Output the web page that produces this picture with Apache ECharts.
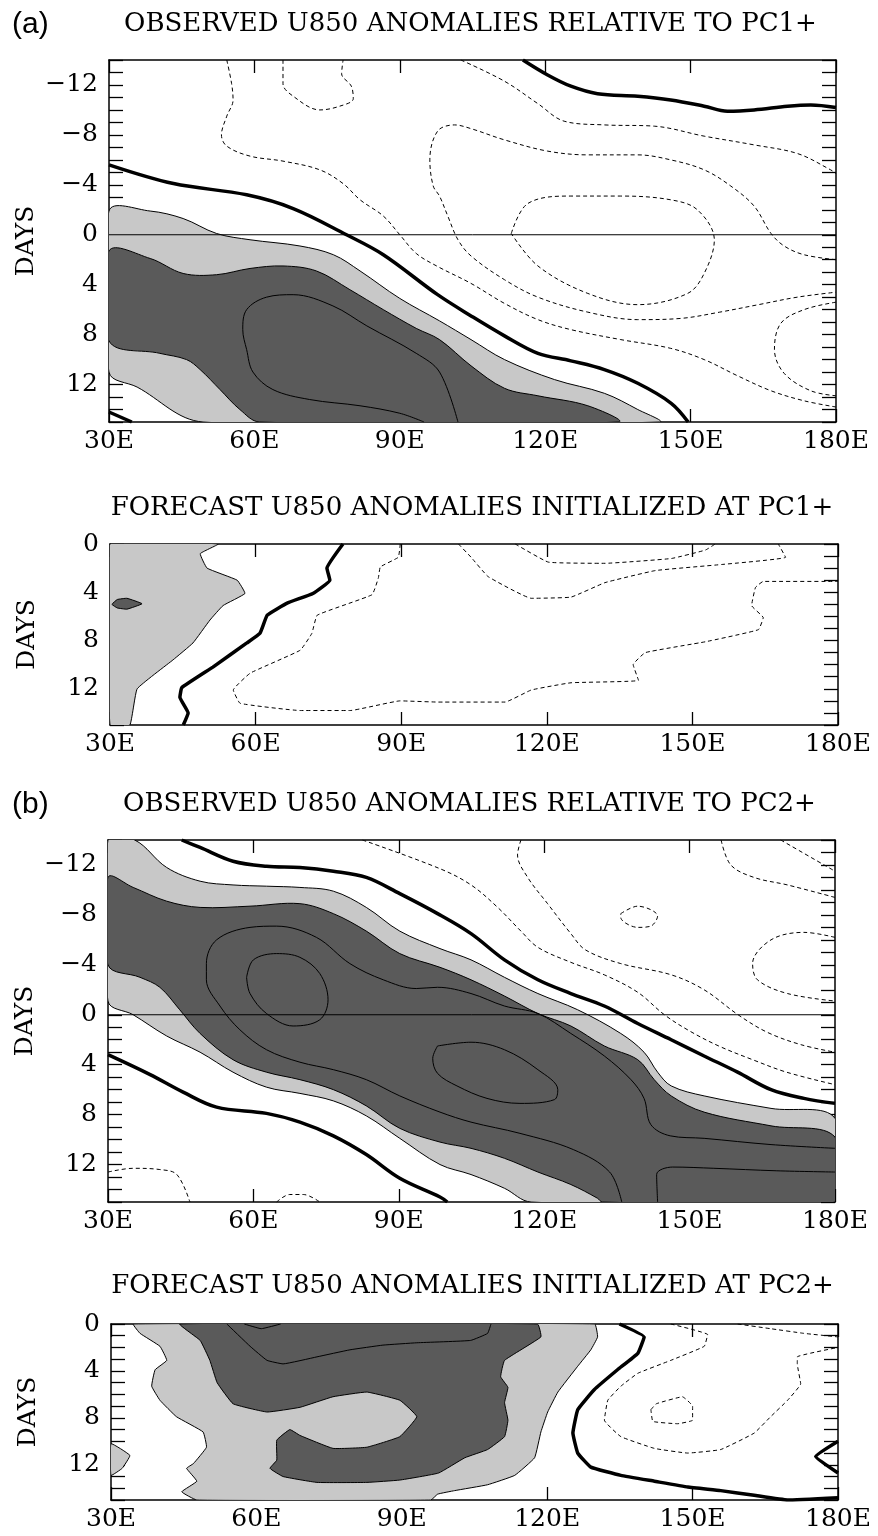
<!DOCTYPE html>
<html>
<head>
<meta charset="utf-8">
<script src="https://cdn.jsdelivr.net/npm/echarts@6/dist/echarts.min.js"></script>
<style>html,body{margin:0;padding:0;background:#fff}#chart{width:878px;height:1536px}</style>
</head>
<body>
<div id="chart"></div>
<script>
// axis values
const lonTicks = [30, 60, 90, 120, 150, 180];
const obsDayLabels = [-12, -8, -4, 0, 4, 8, 12];
const fcDayLabels = [0, 4, 8, 12];

// ---- (a) observed, PC1+ : points are [lon, day]
const obs1Light = [[30,-1.9],[38.5,-1.9],[45.3,-1.3],[52.2,-0.1],[59.1,0.4],[69.4,0.9],[76.3,1.6],[81.8,2.9],[90,5.1],[98.2,6.9],[104.7,8.4],[111.6,10],[121.9,11.6],[132.2,12.7],[139.1,14],[143.5,15],
  [49.4,15],[35.8,12.2],[30,11]];
const obs1Dark = [[30,1.3],[38.5,1.9],[45.3,3.1],[52.2,3.2],[59.1,2.7],[65.9,2.5],[72.8,2.9],[79.7,4.4],[86.6,6],[93.4,7.5],[98.2,8.4],[104.7,10.5],[111.6,12.3],[118.5,12.9],[128.8,13.7],[135,15],
  [61.1,15],[57,14],[52.9,12.4],[48.8,10.8],[46,10],[40.5,9.5],[30,8.5]];
const obs1Zero = [
  [[30,-5.6],[43.3,-4.1],[58.4,-3.2],[68,-2.1],[79,0],[86.6,1.6],[97.8,4.8],[104.7,6.5],[111.6,8.1],[118.5,9.5],[125.3,10.1],[132.2,10.8],[139.1,11.9],[146,13.5],[149.5,15]],
  [[115.4,-14],[120.5,-12.8],[125.3,-11.9],[130.8,-11.3],[139.1,-11.1],[145.9,-10.8],[152.8,-10.3],[157.6,-9.9],[163.1,-10],[170,-10.3],[174.8,-10.4],[180,-10.2]],
  [[30,14.2],[34.7,15]]
];
const obs1Pos = [
  [[102,15],[98.2,11],[93.4,9.5],[83.2,7.3],[76.2,5.7],[68,4.8],[62.5,5],[58.4,6],[57.6,7.6],[58.4,9.2],[59.7,11],[63.8,12.4],[71.4,13.2],[81.8,13.7],[90,14.3],[95,15]]
];
const obs1Neg = [
  [[54.3,-14],[55.3,-12.1],[55.6,-10.8],[54.3,-9.5],[53.2,-8],[54.3,-7.1],[59.1,-6.3],[65.9,-5.9],[73.5,-5.2],[78.3,-4.1],[81.8,-2.8],[86.6,-1.5],[90,0],[93.4,1.5],[97.6,2.5],[104.7,3.9],[111.6,5.5],[118.5,6.8],[125.3,7.6],[135.6,8.4],[145.9,9.1],[152.8,10],[159.7,11.3],[166.6,12.5],[173.4,13.3],[180,13.8]],
  [[65.9,-14],[65.9,-12.1],[68,-11.1],[73.5,-10],[77.6,-10.3],[80.4,-10.9],[80,-11.9],[78,-12.9],[78.3,-14]],
  [[102.6,-14],[111.6,-12.3],[118.5,-10.5],[123.9,-9.1],[132.2,-8.8],[142.5,-8.7],[152.8,-7.9],[163.1,-7.2],[172.1,-6.5],[178.9,-5.2],[180,-4.9]],
  [[180,2],[173.4,1.6],[169.3,0.9],[166.6,-0.1],[163.1,-2.3],[158.3,-3.9],[152.8,-5.2],[145.9,-6],[139.1,-6.4],[128.8,-6.4],[120.5,-6.7],[111.6,-7.6],[104.7,-8.5],[101.3,-8.8],[97.8,-8.3],[96.2,-6],[96.9,-3.9],[98.2,-3.1],[99.9,-1.5],[102,0.4],[104.7,1.7],[111.6,3.6],[118.5,5.0],[128.8,6.2],[139.1,6.8],[148,6.7],[156,6.2],[164,5.6],[172,5.0],[180,4.6]],
  [[113,-0.1],[116.4,-2.5],[125.3,-3.1],[135.6,-3.1],[145.9,-2.8],[151.4,-2],[154.9,0.4],[152.8,3.1],[149.4,4.7],[139.1,5.6],[128.8,4.7],[118.5,2.5],[113,-0.1]],
  [[180,5.4],[173.4,6],[168.6,7.1],[167.3,9.2],[169.3,11.1],[174.8,12.5],[180,12.9]]
];

// ---- forecast, PC1+
const fc1Light = [[30,0],[52.3,0],[48.6,0.8],[50,2],[56.2,3],[57.8,4.1],[53.3,5.1],[50.6,6.3],[47.1,8.2],[43,9.6],[35.6,12],[34.1,15],[30,15]];
const fc1Dark = [[30.4,5],[31.5,4.6],[33.5,4.5],[36.6,4.95],[33.5,5.4],[31.5,5.3]];
const fc1Zero = [
  [[78,0],[74.7,2],[75.3,3],[71.8,4.1],[66.5,4.9],[62.4,5.9],[60.9,7.4],[58.2,8.2],[51.2,10.2],[44.8,11.9],[44.4,12.7],[46.1,14],[45.1,15]]
];
const fc1Pos = [];
const fc1Neg = [
  [[89.8,0],[89.4,1.1],[85.7,1.9],[85.3,2.8],[84,4.2],[72.7,5.9],[71.6,7.4],[69.2,8.8],[58.9,10.7],[55.4,12.1],[56.8,13.2],[69.2,13.8],[79.5,13.8],[89.8,13],[97.6,13.1],[111.4,13.1],[116.8,12.1],[125,11.5],[138.9,11.3],[137.8,10],[140.3,9],[152.7,8.1],[163.6,7.1],[164.6,6.1],[162.2,5.1],[163,3.6],[164.6,3.1],[180,3.1]],
  [[101.8,0],[104.4,1.1],[107.9,2.7],[116.8,4.5],[125,4.4],[132,3.2],[142.4,2.2],[156,1.7],[169.2,1.1],[167.7,0]],
  [[113.5,0],[120.3,1.5],[132,1.6],[145.7,1.2],[152.7,0.5],[154.7,0]]
];

// ---- (b) observed, PC2+
const obs2Light = [[35.5,-14],[42.1,-11.8],[49,-10.7],[55.8,-10.4],[62.7,-10.3],[69.6,-10.2],[76.5,-9.9],[83.3,-8.6],[90.2,-6.7],[98.5,-5.3],[104.9,-4.4],[111.8,-3],[118.7,-1.7],[126.9,-0.4],[135.8,1.5],[140.6,3],[143.4,4.6],[146.2,5.7],[153,6.5],[166.8,7.5],[180,8.3],
  [180,15],[117.3,15],[111.8,13.9],[104.9,12.8],[98.5,12],[90.2,9.9],[83.3,8.1],[76.5,6.9],[69.6,6.3],[62.7,5.8],[55.8,4.6],[49,3],[42.1,1.7],[35.2,0],[30,-1.1],[30,-14]];
const obs2Dark = [[30,-11],[35.2,-10.2],[42.1,-9.1],[49,-8.6],[59.3,-8.7],[69.6,-8.9],[76.5,-8.1],[83.3,-6.7],[90.2,-4.9],[98.5,-3.8],[104.9,-2.8],[111.8,-1.5],[118.7,-0.1],[125.5,0.9],[132.4,2.5],[139.3,3.6],[142.7,5.2],[146.2,6.5],[153,7.8],[166.8,8.9],[180,9.8],
  [180,15],[132,15],[131,14.7],[125.5,13.6],[118.7,12.6],[111.8,11.5],[104.9,10.7],[98.5,10.2],[90.2,9.1],[83.3,7.3],[76.5,6],[69.6,5.2],[62.7,4.6],[55.8,3.6],[49,1.5],[44.8,-0.4],[40.7,-2.2],[36.6,-3],[30,-4]];
const obs2Zero = [
  [[45.2,-14],[49,-13.4],[55.8,-12.3],[62.7,-11.9],[69.6,-11.8],[76.5,-11.5],[83.3,-11],[90.2,-9.7],[98,-8.1],[104.9,-6.5],[111.8,-4.4],[118.7,-2.8],[125.5,-1.7],[132.4,-0.7],[139.3,0.7],[146.2,2],[153,3.3],[159.9,4.6],[166.8,6],[173.6,6.7],[180,7.1]],
  [[30,3.2],[38.7,4.8],[45.5,6.2],[52.4,7.4],[62.7,7.9],[69.6,8.6],[76.5,9.7],[83.3,11.2],[90.2,13.1],[98.5,14.6],[100,15]]
];
const obs2Pos = [
  [[136,15],[133.5,12.6],[126,10.8],[115,9.5],[104.9,8.6],[98.5,7.8],[90.2,6.5],[83.3,5.2],[76.5,4.4],[69.6,3.8],[62.7,2.8],[57.2,1.2],[53.1,-0.7],[50.3,-2.8],[50.3,-4.1],[52.4,-6],[59.3,-7],[64.8,-7.1],[73,-6.2],[79.9,-4.1],[86.8,-2.8],[93.6,-2.1],[98,-2.2],[104.9,-1.7],[111.8,-0.7],[118.7,-0.1],[125.5,1.5],[132.4,3.3],[137.9,5.2],[140.6,6.7],[142,8.8],[146,9.7],[153,9.9],[166.8,10.4],[180,10.7]],
  [[58.6,-3],[60,-4.4],[64.8,-4.9],[69.6,-4.6],[73.7,-3.3],[75.4,-1.2],[73.7,0.4],[68.2,0.9],[62.7,-0.1],[59.3,-1.7],[58.6,-3]],
  [[98,2.5],[104.9,2.2],[111.8,2.8],[118.7,4.4],[122.8,6],[122.1,6.8],[115,7.1],[108.2,6.7],[102,5.7],[98,4.7],[97,3.5],[98,2.5]],
  [[180,12.6],[168,12.5],[155,12.3],[146.5,12.2],[143.2,12.8],[143.4,15]]
];
const obs2Neg = [
  [[82.5,-14],[98.5,-11.7],[104.9,-10.4],[110.4,-8.6],[115.2,-6.7],[118.7,-5.4],[125.5,-4.2],[132.4,-3.2],[139.3,-1.8],[144.8,0],[150,1.3],[156,2.5],[163,3.6],[170,4.6],[180,5.6]],
  [[115.2,-14],[114.5,-12.8],[116.6,-11],[120.7,-8.9],[125.5,-6.5],[128.5,-5.2],[135.8,-4.1],[146.2,-3.2],[153,-2],[160,0],[166,1.4],[173,2.4],[180,3]],
  [[180,-6.2],[173.6,-6.6],[166.8,-6],[163,-4.1],[164,-2.8],[170.2,-1.7],[180,-1.1]],
  [[156.5,-14],[158.5,-12],[163.3,-11],[170.2,-10.4],[180,-9.4]],
  [[168.8,-14],[180,-11.5]],
  [[135.8,-8.1],[139.3,-8.7],[143.4,-7.9],[142,-7.1],[139.3,-7],[135.8,-7.8],[135.8,-8.1]],
  [[30,12.6],[35.2,12.3],[40.7,12.4],[44.2,12.8],[46.9,15]],
  [[64.8,15],[67.5,14.4],[70.3,14.4],[73.7,15]]
];

// ---- forecast, PC2+
const fc2Light = [[34.6,0],[36,0.8],[40.1,1.9],[41.5,3.1],[39.1,3.9],[38.4,5.3],[40.1,6.5],[43.5,7.9],[49,9.2],[49.7,10.5],[47,11.9],[45.6,12.3],[47.7,13.4],[44.6,14.3],[47.7,15],
  [96,15],[97.4,14.5],[100.9,14.2],[107.7,13.7],[113.3,12.9],[117.4,11.4],[118.7,9.2],[120.1,7.5],[122.2,5.8],[126.3,3.6],[129,2.2],[130.4,1.1],[129.8,0]];
const fc2Wedge = [[30,10.2],[33.9,11.2],[32.3,12.3],[30,12.9]];
const fc2Dark = [[44.2,0],[48.4,1.4],[50.4,3.1],[51.9,5],[55.2,6.8],[62.2,7.5],[69,7.1],[75.8,6.2],[82.8,5.8],[89.6,6.5],[93.1,7.9],[89.6,9.6],[82.8,10.5],[75.8,10.6],[69,9.5],[66.9,9],[64.2,9.9],[64.2,11.6],[62.8,12.3],[65.5,13],[72.5,13.5],[82.8,13.5],[89.6,13.3],[97.6,12.7],[103,11.4],[107.7,10.7],[111.2,9.6],[111.9,8.2],[111.2,6.7],[111.9,5.4],[110.4,4.5],[111.2,3.1],[118.7,1.1],[118,0]];
const fc2Zero = [
  [[134.9,0],[140,1.1],[138.7,2.5],[134.5,3.9],[129.7,5.6],[126.3,7.3],[125.3,9.3],[126.3,11],[129,12.2],[135.2,12.9],[142.1,13.4],[149,13.9],[155.8,14.2],[162.7,14.6],[169.6,15],[180,14.8]],
  [[180,10],[175.4,11.3],[180,12.7]]
];
const fc2Pos = [
  [[53.9,0],[58.7,1.9],[62.2,3.1],[65.5,3.4],[72.5,2.8],[79.3,2.2],[86.1,1.8],[93.1,1.6],[104.2,1.4],[107.7,0.8],[108.4,0]],
  [[57.5,0],[61,0.4],[65,0]]
];
const fc2Neg = [
  [[145.5,0],[153.1,0.9],[152.4,1.9],[145.5,3.1],[138.7,4.2],[135.2,5.3],[132.5,6.5],[131.8,8.2],[135.2,9.6],[142.1,10.6],[149,11],[155.8,10.7],[162.7,9.3],[166.1,7.9],[169.6,6.5],[172.3,5.1],[171.6,3.4],[171.6,2.8],[180,2]],
  [[159.3,0],[166.1,0.4],[173,0.8],[180,1.1]],
  [[141.4,7.3],[142.5,6.8],[147.9,6.2],[150,7],[150,8.2],[146.9,8.5],[141.8,8.3],[141.4,7.3]]
];

const LIGHT = '#c8c8c8';
const DARK = '#5a5a5a';
const SERIF = 'DejaVu Serif';

const panels = [
  { grid: { left: 109, top: 60, width: 727, height: 362 }, min: -14, labels: obsDayLabels, title: 'OBSERVED U850 ANOMALIES RELATIVE TO PC1+', titleY: 24,
    light: [obs1Light], dark: [obs1Dark], zero: obs1Zero, pos: obs1Pos, neg: obs1Neg, dayLine: true, smooth: 0.35 },
  { grid: { left: 110, top: 544, width: 728, height: 181 }, min: 0, labels: fcDayLabels, title: 'FORECAST U850 ANOMALIES INITIALIZED AT PC1+', titleY: 508,
    light: [fc1Light], dark: [fc1Dark], zero: fc1Zero, pos: fc1Pos, neg: fc1Neg, dayLine: false, smooth: 0.1 },
  { grid: { left: 108, top: 840, width: 727, height: 362 }, min: -14, labels: obsDayLabels, title: 'OBSERVED U850 ANOMALIES RELATIVE TO PC2+', titleY: 804,
    light: [obs2Light], dark: [obs2Dark], zero: obs2Zero, pos: obs2Pos, neg: obs2Neg, dayLine: true, smooth: 0.35 },
  { grid: { left: 111, top: 1324, width: 727, height: 176 }, min: 0, labels: fcDayLabels, title: 'FORECAST U850 ANOMALIES INITIALIZED AT PC2+', titleY: 1286,
    light: [fc2Light, fc2Wedge], dark: [fc2Dark], zero: fc2Zero, pos: fc2Pos, neg: fc2Neg, dayLine: false, smooth: 0.1 }
];

const grid = [], xAxis = [], yAxis = [], series = [], graphic = [];

function polySeries(pts, fill, gi, smooth) {
  return {
    type: 'custom', xAxisIndex: 2 * gi, yAxisIndex: 2 * gi, clip: true, silent: true, z: 1,
    data: pts,
    renderItem: function (params, api) {
      if (params.dataIndex !== 0) return null;
      return {
        type: 'polygon',
        shape: { points: pts.map(function (p) { return api.coord(p); }), smooth: smooth },
        style: { fill: fill, stroke: '#000', lineWidth: 1 }
      };
    }
  };
}

function lineSeries(pts, gi, width, type, smooth) {
  return {
    type: 'line', xAxisIndex: 2 * gi, yAxisIndex: 2 * gi, data: pts, showSymbol: false, silent: true,
    smooth: smooth, clip: true, z: 3,
    lineStyle: { color: '#000', width: width, type: type }
  };
}

panels.forEach(function (p, i) {
  grid.push(Object.assign({ containLabel: false }, p.grid));
  const tick = { inside: true, length: 13, lineStyle: { color: '#000', width: 1.3 } };
  const line = { show: true, onZero: false, lineStyle: { color: '#000', width: 1.5 } };
  xAxis.push({
    type: 'value', gridIndex: i, position: 'bottom', min: lonTicks[0], max: lonTicks[lonTicks.length - 1], interval: 30,
    axisLine: line, axisTick: tick, splitLine: { show: false },
    axisLabel: { color: '#000', fontFamily: SERIF, fontSize: 25, margin: 7, showMinLabel: true, showMaxLabel: true,
      formatter: function (v) { return v + 'E'; } }
  });
  xAxis.push({
    type: 'value', gridIndex: i, position: 'top', min: lonTicks[0], max: lonTicks[lonTicks.length - 1], interval: 30,
    axisLine: line, axisTick: tick, axisLabel: { show: false }, splitLine: { show: false }
  });
  const labs = p.labels;
  const ytick = { inside: true, length: 14, lineStyle: { color: '#000', width: 1.3 } };
  yAxis.push({
    type: 'value', gridIndex: i, position: 'left', min: p.min, max: 15, interval: 1, inverse: true,
    axisLine: line, axisTick: ytick, splitLine: { show: false },
    name: 'DAYS', nameLocation: 'middle', nameGap: 70, nameRotate: 90, nameMoveOverlap: false,
    nameTextStyle: { color: '#000', fontFamily: SERIF, fontSize: 25 },
    axisLabel: { color: '#000', fontFamily: SERIF, fontSize: 25, margin: 11, showMinLabel: true, showMaxLabel: true,
      formatter: function (v) { return labs.indexOf(v) < 0 ? '' : (v < 0 ? '\u2212' + (-v) : String(v)); } }
  });
  yAxis.push({
    type: 'value', gridIndex: i, position: 'right', min: p.min, max: 15, interval: 1, inverse: true,
    axisLine: line, axisTick: ytick, axisLabel: { show: false }, splitLine: { show: false }
  });

  p.light.forEach(function (poly) { series.push(polySeries(poly, LIGHT, i, p.smooth)); });
  p.dark.forEach(function (poly) { series.push(polySeries(poly, DARK, i, p.smooth)); });
  p.pos.forEach(function (l) { series.push(lineSeries(l, i, 1, 'solid', p.smooth)); });
  p.neg.forEach(function (l) { series.push(lineSeries(l, i, 1, [4, 3], p.smooth)); });
  p.zero.forEach(function (l) { series.push(lineSeries(l, i, 3.5, 'solid', p.smooth)); });
  if (p.dayLine) series.push(lineSeries([[lonTicks[0], 0], [lonTicks[lonTicks.length - 1], 0]], i, 1, 'solid', false));

  graphic.push({
    type: 'text', x: p.grid.left + p.grid.width / 2 - 2, y: p.titleY, silent: true,
    style: { text: p.title, fill: '#000', font: '26px "' + SERIF + '"', align: 'center', verticalAlign: 'middle' }
  });
});

graphic.push({ type: 'text', x: 12, y: 25, style: { text: '(a)', fill: '#000', font: '30px "Liberation Sans"', verticalAlign: 'middle' } });
graphic.push({ type: 'text', x: 12, y: 805, style: { text: '(b)', fill: '#000', font: '30px "Liberation Sans"', verticalAlign: 'middle' } });

const chart = echarts.init(document.getElementById('chart'), null, { renderer: 'canvas' });
chart.setOption({
  backgroundColor: '#fff',
  animation: false,
  grid: grid,
  xAxis: xAxis,
  yAxis: yAxis,
  series: series,
  graphic: graphic
});
</script>
</body>
</html>
